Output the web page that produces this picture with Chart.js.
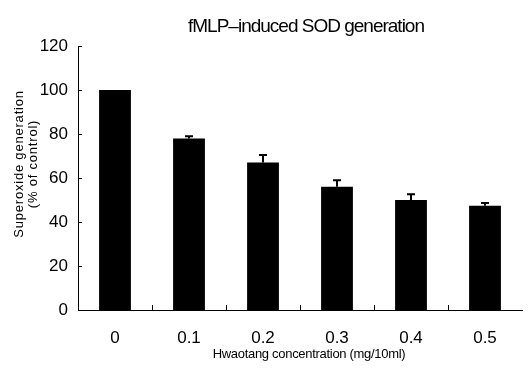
<!DOCTYPE html>
<html>
<head>
<meta charset="utf-8">
<script src="https://cdn.jsdelivr.net/npm/chart.js@4/dist/chart.umd.min.js"></script>
<style>
html,body{margin:0;padding:0;background:#fff;}
#wrap{width:532px;height:370px;position:relative;}
</style>
</head>
<body>
<div id="wrap"><canvas id="c" width="532" height="370"></canvas></div>
<script>
const categories = ['0', '0.1', '0.2', '0.3', '0.4', '0.5'];
const values = [100, 78, 67, 56, 50, 47.4];
const errors = [0, 1, 3.5, 3, 2.6, 1.2];
const yTicks = [0, 20, 40, 60, 80, 100, 120];
const titleText = 'fMLP\u2013induced SOD generation';
const yTitle = ['Superoxide generation', '(% of control)'];
const xTitle = 'Hwaotang concentration (mg/10ml)';

const FONT = "'Liberation Sans', Arial, sans-serif";

const decor = {
  id: 'decor',
  afterDatasetsDraw(chart) {
    const ctx = chart.ctx;
    const x = chart.scales.x, y = chart.scales.y;
    const ca = chart.chartArea;
    ctx.save();
    ctx.strokeStyle = '#000';
    ctx.lineWidth = 1;
    yTicks.forEach(v => {
      const py = Math.round(y.getPixelForValue(v)) + 0.5;
      ctx.beginPath();
      ctx.moveTo(ca.left, py);
      ctx.lineTo(ca.left + 4, py);
      ctx.stroke();
    });
    for (let i = 1; i < categories.length; i++) {
      const px = Math.round((x.getPixelForValue(i - 1) + x.getPixelForValue(i)) / 2) + 0.5;
      ctx.beginPath();
      ctx.moveTo(px, ca.bottom);
      ctx.lineTo(px, ca.bottom - 5);
      ctx.stroke();
    }
    const meta = chart.getDatasetMeta(0);
    ctx.lineWidth = 2;
    meta.data.forEach((bar, i) => {
      if (!errors[i]) return;
      const top = y.getPixelForValue(values[i] + errors[i]);
      const base = y.getPixelForValue(values[i]);
      ctx.beginPath();
      ctx.moveTo(bar.x, base);
      ctx.lineTo(bar.x, top);
      ctx.moveTo(bar.x - 4, top);
      ctx.lineTo(bar.x + 4, top);
      ctx.stroke();
    });
    ctx.fillStyle = '#000';
    ctx.textAlign = 'center';
    ctx.textBaseline = 'middle';
    ctx.font = '19px ' + FONT;
    try { ctx.letterSpacing = '-1px'; } catch (e) {}
    ctx.fillText(titleText, (ca.left + ca.right) / 2 + 6, 27);
    ctx.font = '13px ' + FONT;
    try { ctx.letterSpacing = '-0.3px'; } catch (e) {}
    ctx.fillText(xTitle, (ca.left + ca.right) / 2 + 9, 354);
    try { ctx.letterSpacing = '0.8px'; } catch (e) {}
    ctx.font = '13px ' + FONT;
    const cy = (ca.top + ca.bottom) / 2 - 14;
    ctx.save();
    ctx.translate(19, cy);
    ctx.rotate(-Math.PI / 2);
    ctx.fillText(yTitle[0], 0, 0);
    ctx.restore();
    ctx.save();
    ctx.translate(33, cy);
    ctx.rotate(-Math.PI / 2);
    ctx.fillText(yTitle[1], 0, 0);
    ctx.restore();
    ctx.restore();
  }
};

new Chart(document.getElementById('c'), {
  type: 'bar',
  data: {
    labels: categories,
    datasets: [{
      data: values,
      backgroundColor: '#000',
      borderWidth: 0,
      categoryPercentage: 1,
      barPercentage: 0.43
    }]
  },
  options: {
    responsive: false,
    animation: false,
    events: [],
    layout: { padding: { top: 46, right: 10, left: 0, bottom: 0 } },
    plugins: { legend: { display: false }, tooltip: { enabled: false }, title: { display: false } },
    scales: {
      x: {
        offset: true,
        grid: { display: false, drawTicks: false },
        border: { display: true, color: '#000', width: 1 },
        ticks: { color: '#000', font: { family: FONT, size: 17 }, padding: 18, maxRotation: 0 },
        afterFit(s) { s.height = 60; }
      },
      y: {
        min: 0, max: 120,
        afterBuildTicks(s) { s.ticks = yTicks.map(v => ({ value: v })); },
        grid: { display: false, drawTicks: false },
        border: { display: true, color: '#000', width: 1 },
        ticks: { color: '#000', font: { family: FONT, size: 17 }, padding: 10 },
        afterFit(s) { s.width = 78; }
      }
    }
  },
  plugins: [decor]
});
</script>
</body>
</html>
